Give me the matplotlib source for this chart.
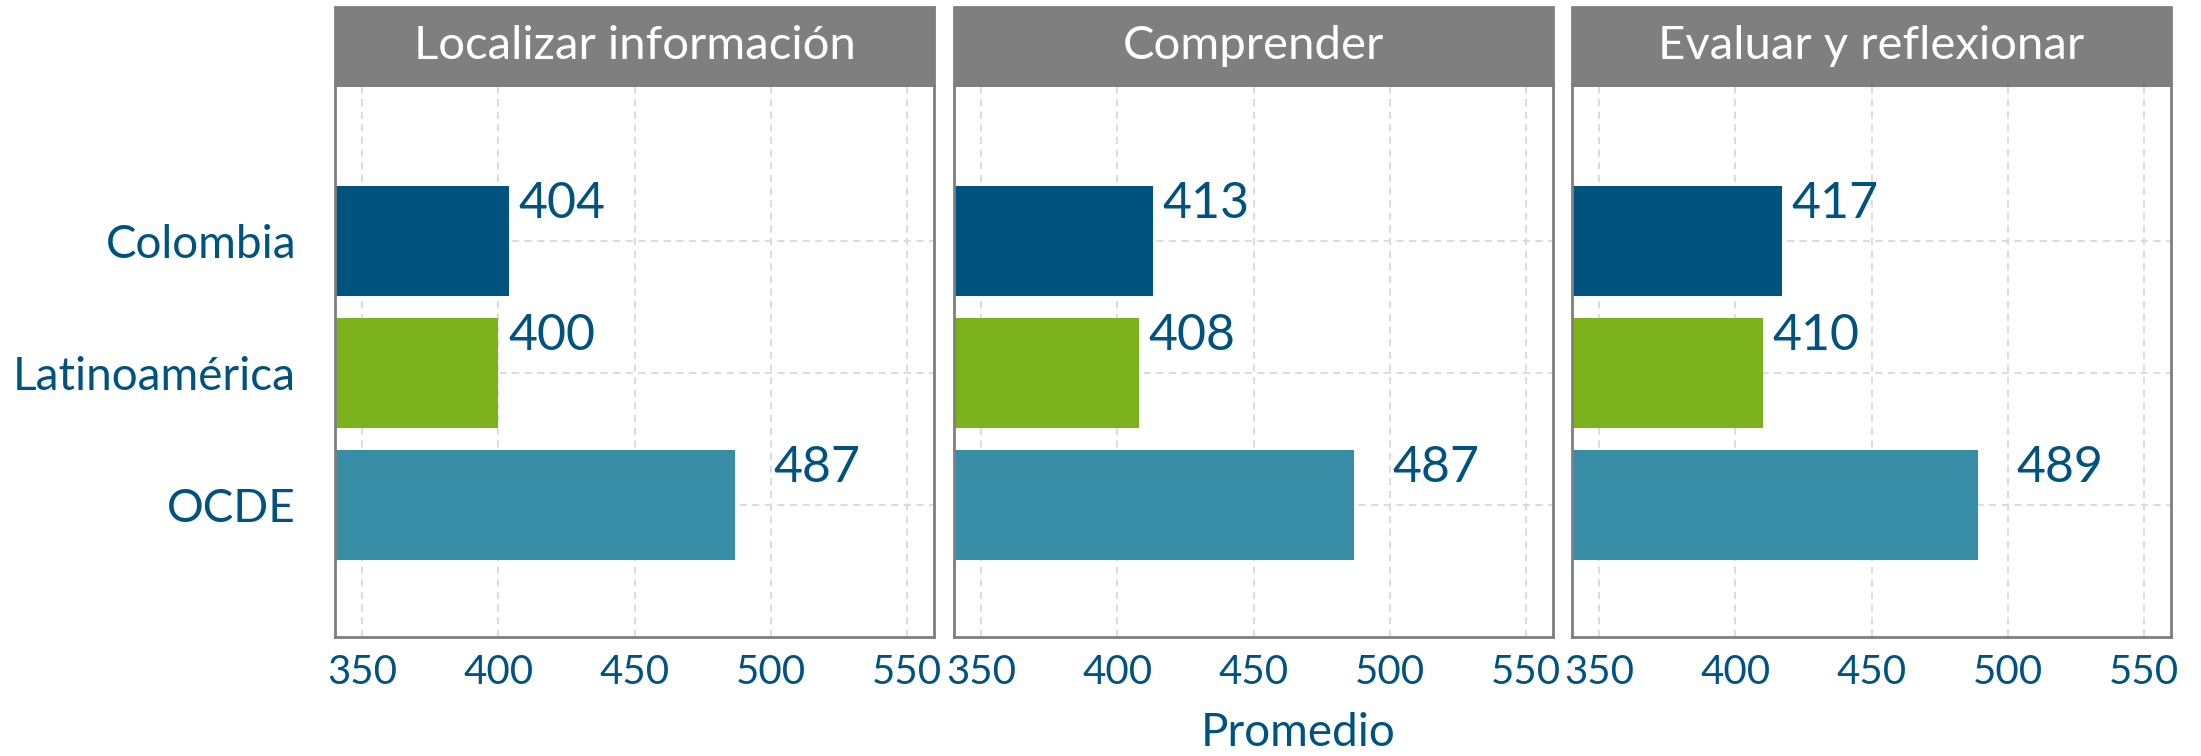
import matplotlib
matplotlib.use('Agg')
import matplotlib.pyplot as plt
from matplotlib.patches import Rectangle

categories = ['Colombia', 'Latinoamérica', 'OCDE']
panels = ['Localizar información', 'Comprender', 'Evaluar y reflexionar']
localizar = [404, 400, 487]
comprender = [413, 408, 487]
evaluar = [417, 410, 489]
ticks = [350, 400, 450, 500, 550]

colors = ['#00527f', '#7cb31c', '#378ca6']
text_color = '#005380'
label_nudge = [19.5, 19.5, 30]

plt.rcParams['font.family'] = ['Lato', 'DejaVu Sans']

W, H = 2201, 756
fig = plt.figure(figsize=(W / 100, H / 100), dpi=100)
lefts = [335, 954, 1572]
ypos = [2, 1, 0]

for i, values in enumerate([localizar, comprender, evaluar]):
    ax = fig.add_axes([lefts[i] / W, 119 / H, 599 / W, 552 / H])
    ax.barh(ypos, values, height=0.83, color=colors, zorder=2)
    ax.set_xlim(340, 560)
    ax.set_ylim(-1.0, 3.18)
    ax.set_xticks(ticks)
    ax.set_yticks(ypos)
    ax.grid(True, color='#d9d9d9', linestyle=(0, (4, 3)), linewidth=1.3, zorder=0)
    ax.set_axisbelow(True)
    for s in ax.spines.values():
        s.set_color('#7f7f7f')
        s.set_linewidth(2)
    ax.tick_params(axis='x', length=0, labelsize=29, labelcolor=text_color, pad=12)
    ax.tick_params(axis='y', length=0, labelsize=33, labelcolor=text_color, pad=28)
    if i == 0:
        ax.set_yticklabels(categories)
    else:
        ax.set_yticklabels([])

    # strip header above each panel
    hh = 78 / 552
    ax.add_patch(Rectangle((0, 1), 1, hh, transform=ax.transAxes, clip_on=False,
                           facecolor='#7f7f7f', edgecolor='#7f7f7f', linewidth=2))
    ax.text(0.5, 1 + hh / 2, panels[i], transform=ax.transAxes, ha='center',
            va='center', color='white', fontsize=34)

    for j, v in enumerate(values):
        ax.text(v + label_nudge[j], ypos[j] + 0.17, str(v), ha='center', va='baseline',
                fontsize=36, color=text_color)

fig.text(1298 / W, 1 - 733 / H, 'Promedio', ha='center', va='center',
         fontsize=33, color=text_color)

fig.savefig('out.png', dpi=100)
